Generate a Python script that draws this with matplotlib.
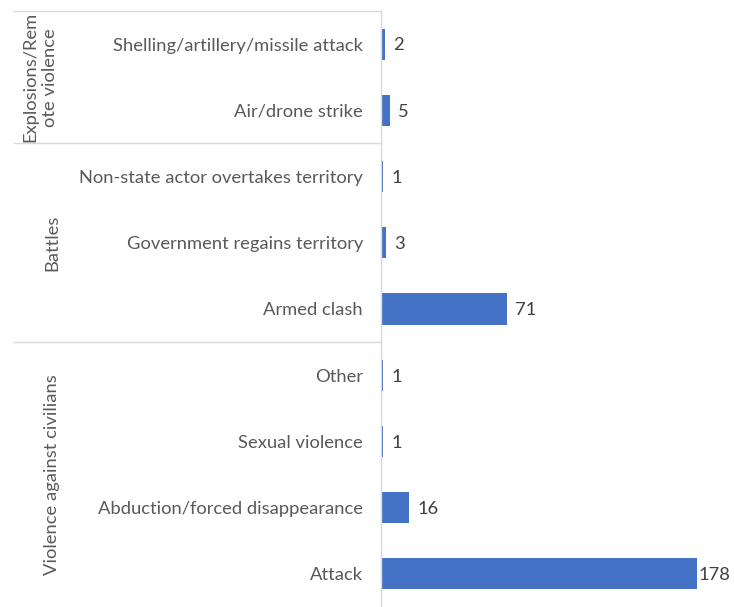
import matplotlib.pyplot as plt
import numpy as np

categories = [
    "Shelling/artillery/missile attack",
    "Air/drone strike",
    "Non-state actor overtakes territory",
    "Government regains territory",
    "Armed clash",
    "Other",
    "Sexual violence",
    "Abduction/forced disappearance",
    "Attack",
]
values = [2, 5, 1, 3, 71, 1, 1, 16, 178]
groups = ["Explosions/Rem\note violence", "Battles", "Violence against civilians"]
group_sizes = [2, 3, 4]

BAR = "#4472c4"
GRID = "#d9d9d9"
TXT = "#595959"

plt.rcParams['font.family'] = ['Lato', 'DejaVu Sans']

W, H = 734, 607
fig = plt.figure(figsize=(W / 100, H / 100), dpi=100)
left, top = 381, 11
ax = fig.add_axes([left / W, 0, (W - left) / W, (H - top) / H])

y = np.arange(len(categories))
ax.barh(y, values, height=0.47, color=BAR)
ax.set_xlim(0, 199)
ax.set_ylim(len(categories) - 0.5, -0.5)

# labels sit a little right of the bar; the longest one is squeezed in
for yi, v in zip(y, values):
    off = 1 if v == max(values) else 6
    ax.annotate(str(v), (v, yi), xytext=(off, -1), textcoords="offset points",
                va="center", ha="left", fontsize=13.2, color="#404040")

ax.set_yticks(y)
ax.set_yticklabels(categories, fontsize=13.2, color=TXT)
ax.tick_params(axis="y", length=0, pad=13)
ax.set_xticks([])
for s in ["top", "right", "bottom"]:
    ax.spines[s].set_visible(False)
ax.spines["left"].set_color(GRID)
ax.spines["left"].set_linewidth(1)

# group separators and labels
tr = ax.get_yaxis_transform()
x0 = (14 - left) / (W - left)
bounds = np.concatenate([[0], np.cumsum(group_sizes)]) - 0.5
for b in bounds[:-1]:
    ax.plot([x0, 0], [b, b], transform=tr, color=GRID, lw=1, clip_on=False)
label_x = [(40 - left) / (W - left), (52 - left) / (W - left), (52 - left) / (W - left)]
for g, lx, a, b in zip(groups, label_x, bounds[:-1], bounds[1:]):
    ax.text(lx, (a + b) / 2, g, transform=tr, rotation=90, ha="center",
            va="center", fontsize=13.2, color=TXT, linespacing=1.3)

fig.savefig("out.png", dpi=100)
